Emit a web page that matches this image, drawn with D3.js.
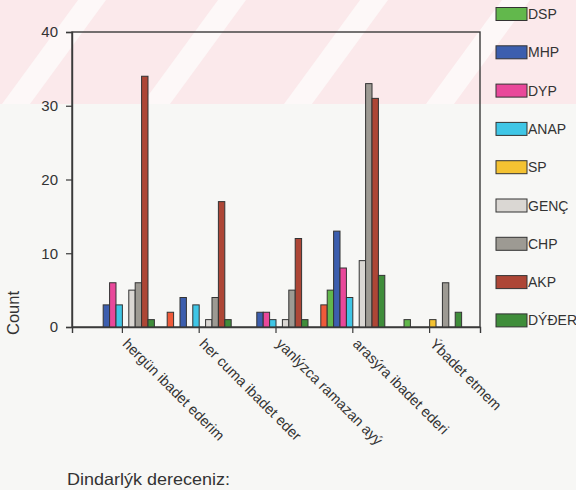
<!DOCTYPE html>
<html>
<head>
<meta charset="utf-8">
<script src="https://cdn.jsdelivr.net/npm/d3@7"></script>
<style>
	body { margin: 0; background: #f7f7f5; }
	svg { display: block; font-family: "Liberation Sans", Arial, sans-serif; }
</style>
</head>
<body>
<svg id="chart" width="576" height="490"></svg>
<script>
// Categories (religiosity levels) and parties
const categories = ["hergün ibadet ederim", "her cuma ibadet eder", "yanlýzca ramazan ayý", "arasýra ibadet ederi", "Ýbadet etmem"]
const parties = ["DEHAP", "DSP", "MHP", "DYP", "ANAP", "SP", "GENÇ", "CHP", "AKP", "DÝÐER"]
const colours = ["#ef5a3a", "#62b84c", "#3c5eae", "#e9489a", "#3fc6e6", "#f4c232", "#dad7d3", "#9d9a93", "#ad4636", "#3f8d3a"]
const yTicks = [0, 10, 20, 30, 40]

// counts per category, in party order
const hergun = [0, 0, 3, 6, 3, 0, 5, 6, 34, 1]
const herCuma = [2, 0, 4, 0, 3, 0, 1, 4, 17, 1]
const ramazan = [0, 0, 2, 2, 1, 0, 1, 5, 12, 1]
const arasira = [3, 5, 13, 8, 4, 0, 9, 33, 31, 7]
const etmem = [0, 1, 0, 0, 0, 1, 0, 6, 0, 2]
const counts = [hergun, herCuma, ramazan, arasira, etmem]

const svg = d3.select("#chart")
const margin = { left: 72, right: 96, top: 32, bottom: 163 }
const width = 576 - margin.left - margin.right
const height = 490 - margin.top - margin.bottom

// Faint watermark band at the top of the scan
const wm = svg.append("g")
wm.append("rect")
	.attr("x", 0).attr("y", 0)
	.attr("width", 576).attr("height", 104)
	.attr("fill", "#fbe9eb")
const stripeStarts = [78, 218, 360, 502]
wm.selectAll("path.stripe")
	.data(stripeStarts)
	.join("path")
	.attr("class", "stripe")
	.attr("d", s => `M${s},0 L${s + 28},0 L${s - 48},104 L${s - 76},104 Z`)
	.attr("fill", "#fdf8f8")

const x0 = d3.scaleBand()
	.domain(categories)
	.range([margin.left, margin.left + width])
	.paddingOuter(0.156)
	.paddingInner(0)

const x1 = d3.scaleBand()
	.domain(parties)
	.range([(x0.bandwidth() - 64) / 2, (x0.bandwidth() + 64) / 2])

const y = d3.scaleLinear()
	.domain([0, 40])
	.range([margin.top + height, margin.top])

// Frame
svg.append("rect")
	.attr("x", margin.left)
	.attr("y", margin.top)
	.attr("width", width)
	.attr("height", height)
	.attr("fill", "none")
	.attr("stroke", "#3a3a3a")
	.attr("stroke-width", 1.4)

// Bars
const groups = svg.append("g")
	.selectAll("g.cluster")
	.data(categories)
	.join("g")
	.attr("class", "cluster")
	.attr("transform", d => `translate(${x0(d)},0)`)

groups.selectAll("rect")
	.data((d, i) => parties.map((p, j) => ({ party: p, value: counts[i][j], colour: colours[j] })))
	.join("rect")
	.filter(d => d.value > 0)
	.attr("x", d => x1(d.party))
	.attr("y", d => y(d.value))
	.attr("width", x1.bandwidth())
	.attr("height", d => y(0) - y(d.value))
	.attr("fill", d => d.colour)
	.attr("stroke", "#333")
	.attr("stroke-width", 1)

// Y axis
const yAxis = svg.append("g")
	.attr("transform", `translate(${margin.left},0)`)
	.call(d3.axisLeft(y).tickValues(yTicks).tickSize(6).tickPadding(8))
yAxis.select(".domain").attr("stroke", "#3a3a3a").attr("stroke-width", 1.4)
yAxis.selectAll(".tick line").attr("stroke", "#3a3a3a").attr("stroke-width", 1.2)
yAxis.selectAll(".tick text")
	.attr("font-size", 15)
	.attr("fill", "#333")
	.attr("font-family", "Liberation Sans, Arial, sans-serif")

// X axis
const xAxis = svg.append("g")
	.attr("transform", `translate(0,${margin.top + height})`)
	.call(d3.axisBottom(x0).tickSize(6).tickFormat(""))
xAxis.select(".domain").attr("stroke", "#3a3a3a").attr("stroke-width", 1.4)
xAxis.selectAll(".tick line").attr("stroke", "#3a3a3a").attr("stroke-width", 1.2)

svg.append("g")
	.selectAll("text")
	.data(categories)
	.join("text")
	.attr("transform", d => `translate(${x0(d) + x0.bandwidth() / 2 + 7},${margin.top + height + 10}) rotate(45)`)
	.attr("dy", "0.75em")
	.attr("font-size", 14.5)
	.attr("fill", "#333")
	.text(d => d)

// Axis titles
svg.append("text")
	.attr("transform", `translate(19,313) rotate(-90)`)
	.attr("text-anchor", "middle")
	.attr("font-size", 16.5)
	.attr("fill", "#333")
	.text("Count")

svg.append("text")
	.attr("x", 67)
	.attr("y", 485)
	.attr("font-size", 16.5)
	.attr("textLength", 163)
	.attr("lengthAdjust", "spacingAndGlyphs")
	.attr("fill", "#333")
	.text("Dindarlýk dereceniz:")

// Legend (first party's entry falls above the visible page)
const legendItems = parties.slice(1).map((p, i) => ({ party: p, colour: colours[i + 1], i }))
const legend = svg.append("g")
	.selectAll("g.item")
	.data(legendItems)
	.join("g")
	.attr("class", "item")
	.attr("transform", d => `translate(496,${14 + d.i * 38.3})`)
legend.append("rect")
	.attr("x", 0).attr("y", -6.5)
	.attr("width", 31).attr("height", 13)
	.attr("fill", d => d.colour)
	.attr("stroke", "#333")
	.attr("stroke-width", 1)
legend.append("text")
	.attr("x", 32)
	.attr("dy", "0.36em")
	.attr("font-size", 14)
	.attr("fill", "#333")
	.text(d => d.party)
</script>
</body>
</html>
